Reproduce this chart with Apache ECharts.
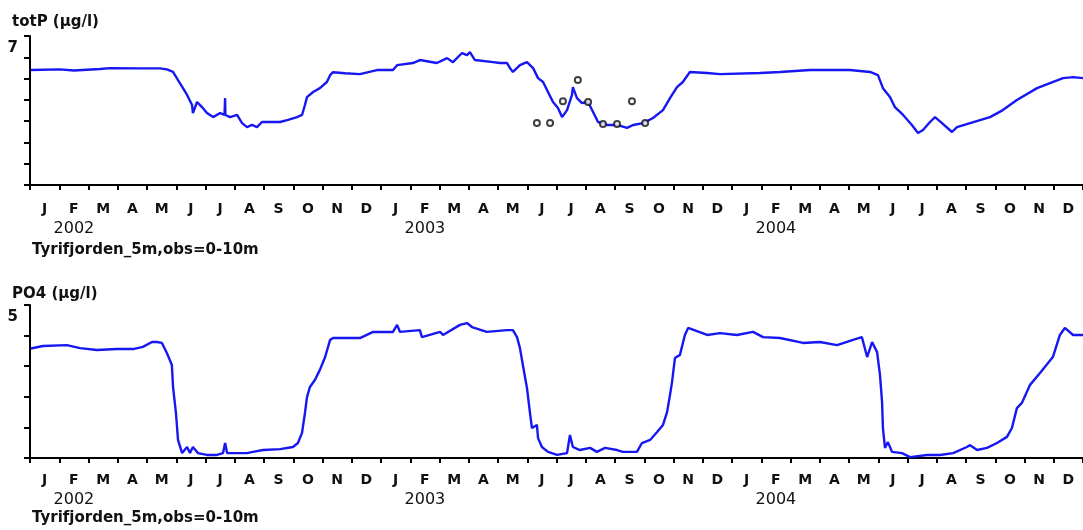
<!DOCTYPE html>
<html>
<head>
<meta charset="utf-8">
<script src="https://cdn.jsdelivr.net/npm/echarts@6/dist/echarts.min.js"></script>
<style>
  html, body { margin: 0; padding: 0; background: #fff; }
  #chart { width: 1083px; height: 530px; }
</style>
</head>
<body>
<div id="chart"></div>
<script>
// ---- Data (x in months since 1 Jan 2002) ----
const monthLetters = ['J','F','M','A','M','J','J','A','S','O','N','D'];
const yearLabels = ['2002','2003','2004'];
const stationLabel = 'Tyrifjorden_5m,obs=0-10m';
const topTitle = 'totP (µg/l)';
const bottomTitle = 'PO4 (µg/l)';

const totPMonths = [0.03,1.03,1.50,2.39,2.74,3.76,4.44,4.68,4.89,5.06,5.23,5.37,5.54,5.57,5.71,5.88,6.05,6.26,6.50,6.65,6.67,6.68,6.84,7.08,7.25,7.42,7.59,7.76,7.93,8.21,8.55,8.79,9.13,9.30,9.40,9.47,9.68,9.91,10.15,10.26,10.36,10.77,11.28,11.86,12.41,12.55,13.09,13.33,13.91,14.26,14.46,14.77,14.94,15.04,15.21,15.83,16.07,16.31,16.41,16.51,16.75,16.99,17.20,17.37,17.54,17.71,17.88,18.05,18.19,18.36,18.53,18.56,18.70,18.87,19.08,19.25,19.42,19.73,20.07,20.41,20.62,20.96,21.30,21.64,21.88,22.12,22.32,22.56,23.15,23.59,24.96,25.64,26.67,27.59,28.03,28.72,28.99,29.16,29.40,29.57,29.85,30.15,30.36,30.53,30.77,30.94,31.18,31.52,31.69,32.14,32.82,33.26,33.74,34.43,34.87,35.32,35.66,36.00];
const totPValues = [5.40,5.43,5.38,5.45,5.49,5.48,5.48,5.43,5.32,4.93,4.55,4.23,3.76,3.38,3.90,3.66,3.38,3.19,3.38,3.29,4.08,3.29,3.19,3.29,2.91,2.72,2.82,2.72,2.96,2.96,2.96,3.05,3.19,3.29,3.76,4.13,4.37,4.55,4.84,5.16,5.30,5.25,5.21,5.40,5.40,5.63,5.73,5.87,5.73,5.96,5.77,6.20,6.10,6.24,5.87,5.77,5.73,5.73,5.49,5.31,5.63,5.77,5.49,5.02,4.84,4.37,3.90,3.62,3.19,3.52,4.23,4.60,4.08,3.85,3.90,3.43,2.96,2.82,2.82,2.68,2.82,2.91,3.15,3.52,4.08,4.60,4.84,5.31,5.26,5.21,5.26,5.31,5.40,5.40,5.40,5.31,5.16,4.55,4.13,3.66,3.29,2.82,2.44,2.58,2.96,3.19,2.91,2.49,2.72,2.91,3.19,3.52,3.99,4.55,4.79,5.02,5.07,5.02];

const obsMonths = [17.33,17.78,18.22,18.73,19.08,19.59,20.07,20.58,21.03];
const obsValues = [2.91,2.91,3.94,4.93,3.90,2.86,2.86,3.94,2.91];

const po4Months = [0.03,0.44,1.26,1.71,2.29,2.97,3.52,3.86,4.17,4.34,4.51,4.68,4.85,4.89,4.99,5.06,5.20,5.37,5.47,5.57,5.74,6.05,6.39,6.60,6.67,6.74,7.08,7.42,7.62,7.97,8.55,8.99,9.16,9.30,9.40,9.47,9.57,9.74,9.91,10.09,10.26,10.36,11.28,11.73,12.41,12.55,12.65,13.33,13.40,14.02,14.12,14.70,14.94,15.11,15.62,16.31,16.51,16.65,16.75,16.85,16.99,17.09,17.16,17.33,17.37,17.50,17.71,18.02,18.36,18.46,18.56,18.80,19.15,19.38,19.66,20.07,20.27,20.75,20.92,21.20,21.44,21.64,21.78,21.88,21.95,22.05,22.22,22.39,22.50,22.56,23.15,23.59,24.17,24.72,25.06,25.64,26.43,27.01,27.59,28.14,28.44,28.62,28.79,28.96,29.06,29.13,29.16,29.23,29.33,29.47,29.81,30.09,30.67,31.11,31.56,32.03,32.14,32.38,32.72,33.06,33.40,33.57,33.74,33.91,34.19,34.53,34.97,35.21,35.38,35.66,36.00];
const po4Values = [3.58,3.66,3.69,3.59,3.53,3.56,3.56,3.63,3.79,3.79,3.76,3.43,3.04,2.32,1.47,0.59,0.16,0.36,0.16,0.36,0.16,0.10,0.10,0.16,0.49,0.16,0.16,0.16,0.20,0.26,0.29,0.36,0.49,0.82,1.47,1.99,2.32,2.55,2.88,3.30,3.86,3.92,3.92,4.12,4.12,4.35,4.12,4.18,3.95,4.12,4.02,4.35,4.41,4.28,4.12,4.18,4.18,3.95,3.59,3.04,2.29,1.50,0.98,1.08,0.65,0.36,0.20,0.10,0.16,0.75,0.36,0.26,0.33,0.20,0.33,0.26,0.20,0.20,0.49,0.59,0.85,1.08,1.50,2.06,2.48,3.27,3.37,4.02,4.25,4.25,4.02,4.08,4.02,4.12,3.95,3.92,3.76,3.79,3.69,3.86,3.95,3.30,3.79,3.46,2.71,1.83,0.98,0.33,0.52,0.20,0.16,0.03,0.10,0.10,0.16,0.36,0.42,0.26,0.33,0.49,0.69,0.98,1.63,1.80,2.39,2.78,3.30,4.02,4.25,4.02,4.02];

// ---- Build ----
const categories = [];
yearLabels.forEach(() => monthLetters.forEach(m => categories.push(m)));
const zip = (xs, ys) => xs.map((x, i) => [x, ys[i]]);

const FONT = 'DejaVu Sans';
const BLUE = '#1717f2';
const TXT = '#111';

function catAxis(gridIndex, margin) {
  return {
    type: 'category', gridIndex, data: categories, boundaryGap: true,
    axisLine: { show: true, lineStyle: { color: '#000', width: 2 } },
    axisTick: { show: true, interval: 0, length: 5, lineStyle: { color: '#000', width: 2 } },
    axisLabel: {
      interval: 0, margin,
      formatter: (v, i) => (i % 12 === 1)
        ? '{m|' + v + '}\n{y|' + yearLabels[(i - 1) / 12] + '}'
        : '{m|' + v + '}',
      rich: {
        m: { fontFamily: FONT, fontSize: 14, fontWeight: 'bold', color: TXT, lineHeight: 15 },
        y: { fontFamily: FONT, fontSize: 16, color: TXT, lineHeight: 24 }
      }
    },
    splitLine: { show: false }
  };
}
function valXAxis(gridIndex) {
  return { type: 'value', gridIndex, min: 0, max: 36, show: false };
}
function yAxis(gridIndex, max) {
  return {
    type: 'value', gridIndex, min: 0, max, interval: 1,
    axisLine: { show: true, lineStyle: { color: '#000', width: 2 } },
    axisTick: { show: true, inside: false, length: 6, lineStyle: { color: '#000', width: 2 } },
    axisLabel: {
      margin: 12, verticalAlign: 'top', padding: [5, 0, 0, 0],
      fontFamily: FONT, fontSize: 15, fontWeight: 'bold', color: TXT,
      formatter: v => (v === max ? String(v) : '')
    },
    splitLine: { show: false }
  };
}

const titleStyle = { fontFamily: FONT, fontSize: 15, fontWeight: 'bold', color: TXT };
const stationStyle = { fontFamily: FONT, fontSize: 15, fontWeight: 'bold', color: TXT };

const chart = echarts.init(document.getElementById('chart'), null, { renderer: 'canvas' });
chart.setOption({
  animation: false,
  backgroundColor: '#fff',
  title: [
    { text: topTitle, left: 12, top: 15, padding: 0, textStyle: titleStyle },
    { text: stationLabel, left: 32, top: 243, padding: 0, textStyle: stationStyle },
    { text: bottomTitle, left: 12, top: 287, padding: 0, textStyle: titleStyle },
    { text: stationLabel, left: 32, top: 511, padding: 0, textStyle: stationStyle }
  ],
  grid: [
    { left: 30, right: 0, top: 36, height: 149 },
    { left: 30, right: 0, top: 305, height: 153 }
  ],
  xAxis: [catAxis(0, 17), valXAxis(0), catAxis(1, 15), valXAxis(1)],
  yAxis: [yAxis(0, 7), yAxis(1, 5)],
  series: [
    { type: 'line', xAxisIndex: 1, yAxisIndex: 0, data: zip(totPMonths, totPValues),
      showSymbol: false, lineStyle: { color: BLUE, width: 2.4 }, z: 2 },
    { type: 'scatter', xAxisIndex: 1, yAxisIndex: 0, data: zip(obsMonths, obsValues),
      symbol: 'emptyCircle', symbolSize: 6, itemStyle: { color: '#111', borderWidth: 1.5 }, z: 3 },
    { type: 'line', xAxisIndex: 3, yAxisIndex: 1, data: zip(po4Months, po4Values),
      showSymbol: false, lineStyle: { color: BLUE, width: 2.4 }, z: 2 }
  ]
});
</script>
</body>
</html>
